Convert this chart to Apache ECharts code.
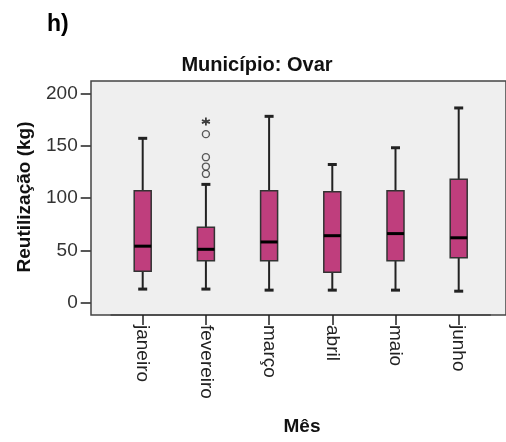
<!DOCTYPE html>
<html>
<head>
<meta charset="utf-8">
<script src="https://cdn.jsdelivr.net/npm/echarts@6/dist/echarts.min.js"></script>
<style>
  html, body { margin: 0; padding: 0; background: #fff; }
  #chart { width: 506px; height: 442px; }
</style>
</head>
<body>
<div id="chart"></div>
<script>
// Months on the category axis
var months = ['janeiro', 'fevereiro', 'março', 'abril', 'maio', 'junho'];
// Five-number summaries per month (kg)
var mins    = [13, 13, 12, 12, 12, 11];
var q1s     = [30, 40, 40, 29, 40, 43];
var medians = [54, 51, 58, 64, 66, 62];
var q3s     = [107, 72, 107, 106, 107, 118];
var maxs    = [157, 113, 178, 132, 148, 186];
// Outliers: [month index, value]
var outliers = [[1, 161], [1, 139], [1, 130], [1, 123]];
var extremes = [[1, 173]];
// Y tick values
var yTicks = [0, 50, 100, 150, 200];

var boxData = months.map(function (m, i) {
  return [i, mins[i], q1s[i], medians[i], q3s[i], maxs[i]];
});

var FONT = '"Liberation Sans", Arial, sans-serif';
var INK = '#222';

function renderBox(params, api) {
  var i = api.value(0);
  var pMin = api.coord([i, api.value(1)]);
  var pQ1 = api.coord([i, api.value(2)]);
  var pMed = api.coord([i, api.value(3)]);
  var pQ3 = api.coord([i, api.value(4)]);
  var pMax = api.coord([i, api.value(5)]);
  var cx = pMin[0];
  var half = 8.5;
  var cap = 4.5;
  var lineStyle = { stroke: INK, lineWidth: 2 };
  return {
    type: 'group',
    children: [
      { type: 'line', shape: { x1: cx, y1: pQ3[1], x2: cx, y2: pMax[1] }, style: lineStyle },
      { type: 'line', shape: { x1: cx, y1: pMin[1], x2: cx, y2: pQ1[1] }, style: lineStyle },
      { type: 'line', shape: { x1: cx - cap, y1: pMax[1], x2: cx + cap, y2: pMax[1] }, style: { stroke: INK, lineWidth: 3 } },
      { type: 'line', shape: { x1: cx - cap, y1: pMin[1], x2: cx + cap, y2: pMin[1] }, style: { stroke: INK, lineWidth: 3 } },
      { type: 'rect', shape: { x: cx - half, y: pQ3[1], width: half * 2, height: pQ1[1] - pQ3[1] },
        style: { fill: '#bf3e7d', stroke: '#333', lineWidth: 1.5 } },
      { type: 'line', shape: { x1: cx - half, y1: pMed[1], x2: cx + half, y2: pMed[1] }, style: { stroke: '#000', lineWidth: 3 } }
    ]
  };
}

var chart = echarts.init(document.getElementById('chart'), null, { renderer: 'canvas' });

chart.setOption({
  animation: false,
  backgroundColor: '#fff',
  grid: [
    // plot frame
    { left: 91, right: -3, top: 81, bottom: 127, show: true, backgroundColor: '#efefef',
      borderColor: '#444', borderWidth: 1.5, containLabel: false },
    // data area: bottom edge sits on the frame, value 0 lies a little above it
    { left: 111.1, width: 379.2, top: 93.3, height: 221.7, containLabel: false }
  ],
  xAxis: [
    { gridIndex: 0, type: 'value', show: false, min: 0, max: 1 },
    { gridIndex: 1, type: 'category', data: months, boundaryGap: true,
      position: 'bottom',
      axisLine: { show: true, onZero: false, lineStyle: { color: '#444', width: 1.5 } },
      axisTick: { show: true, inside: false, alignWithLabel: true, length: 10, lineStyle: { color: INK, width: 1.5 } },
      axisLabel: { rotate: -90, margin: 10, fontFamily: FONT, fontSize: 19, color: INK, interval: 0 } }
  ],
  yAxis: [
    { gridIndex: 0, type: 'value', show: false, min: 0, max: 1 },
    { gridIndex: 1, type: 'value', min: -11.75, max: yTicks[yTicks.length - 1],
      position: 'left', offset: 20.4,
      axisLine: { show: false },
      splitLine: { show: false },
      axisTick: { show: true, length: 10, customValues: yTicks, lineStyle: { color: INK, width: 1.5 } },
      axisLabel: { margin: 13, customValues: yTicks, fontFamily: FONT, fontSize: 19, color: '#333' } }
  ],
  series: [
    { type: 'custom', xAxisIndex: 1, yAxisIndex: 1, renderItem: renderBox,
      encode: { x: 0, y: [1, 2, 3, 4, 5] }, data: boxData, z: 5 },
    { type: 'scatter', xAxisIndex: 1, yAxisIndex: 1, data: outliers,
      symbol: 'circle', symbolSize: 7,
      itemStyle: { color: 'rgba(0,0,0,0)', borderColor: '#333', borderWidth: 1.4 }, z: 6 },
    { type: 'scatter', xAxisIndex: 1, yAxisIndex: 1, data: extremes,
      symbol: 'path://M5,0L5,10M0.5,3L9.5,7M0.5,7L9.5,3', symbolSize: 8,
      itemStyle: { color: 'rgba(0,0,0,0)', borderColor: '#111', borderWidth: 1.8 }, z: 6 }
  ],
  graphic: [
    { type: 'text', left: 47, top: 13, style: { text: 'h)', font: 'bold 23px ' + FONT, fill: '#000' } },
    { type: 'text', x: 257, y: 65, style: { text: 'Município: Ovar', font: 'bold 20px ' + FONT,
      fill: '#111', textAlign: 'center', textVerticalAlign: 'middle' } },
    { type: 'text', x: 25, y: 197, rotation: Math.PI / 2,
      style: { text: 'Reutilização (kg)', font: 'bold 19px ' + FONT,
      fill: '#111', textAlign: 'center', textVerticalAlign: 'middle' } },
    { type: 'text', x: 302, y: 427, style: { text: 'Mês', font: 'bold 19px ' + FONT,
      fill: '#111', textAlign: 'center', textVerticalAlign: 'middle' } }
  ]
});
</script>
</body>
</html>
